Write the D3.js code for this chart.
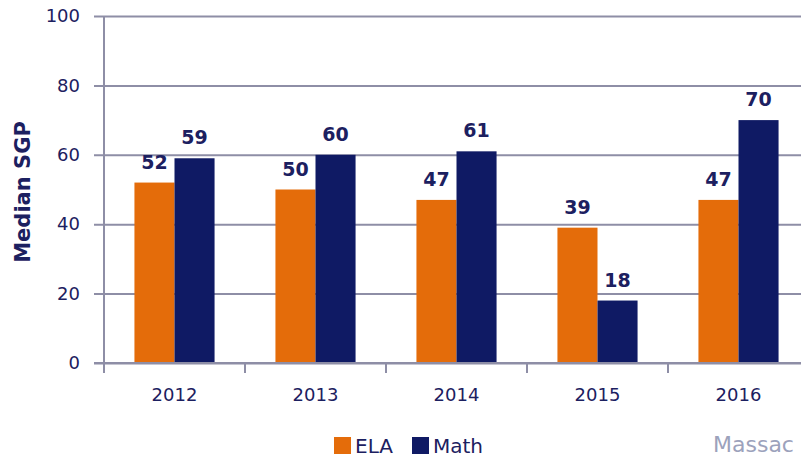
<!DOCTYPE html>
<html>
<head>
<meta charset="utf-8">
<script src="https://cdn.jsdelivr.net/npm/d3@7"></script>
<style>
  body { margin: 0; background: #fff; }
  svg { display: block; font-family: "DejaVu Sans", Verdana, sans-serif; }
</style>
</head>
<body>
<div id="chart"></div>
<script>
const width = 801;
const height = 458;

const years = ['2012', '2013', '2014', '2015', '2016'];
const series = ['ELA', 'Math'];
const ela = [52, 50, 47, 39, 47];
const math = [59, 60, 61, 18, 70];
const y_ticks = [0, 20, 40, 60, 80, 100];
const colors = ['#e46c0a', '#0f1a64'];

const axis_color = '#8e8ea6';
const text_color = '#1c2060';

const rows = years.map((yr, i) => ({ year: yr, ELA: ela[i], Math: math[i] }));

const x_scale = d3.scaleBand()
  .domain(years)
  .range([104, 809]);
const x_inner = d3.scaleBand()
  .domain(series)
  .range([0, x_scale.bandwidth()])
  .paddingOuter(0.76);
const y_scale = d3.scaleLinear()
  .domain([0, 100])
  .range([363, 16]);
const color_scale = d3.scaleOrdinal()
  .domain(series)
  .range(colors);

const svg = d3.select('#chart')
  .append('svg')
    .attr('width', width)
    .attr('height', height);

// gridlines + y ticks
svg.append('g')
    .attr('class', 'grid')
    .attr('transform', 'translate(104,0)')
    .call(d3.axisLeft(y_scale)
      .tickValues(y_ticks)
      .tickSize(10)
      .tickPadding(14))
    .call(g => g.select('.domain').remove())
    .call(g => g.selectAll('.tick line')
      .attr('x2', width)
      .attr('x1', -10)
      .attr('stroke', axis_color)
      .attr('stroke-width', 2))
    .call(g => g.selectAll('.tick text')
      .attr('fill', text_color)
      .attr('font-size', 18)
      .attr('font-family', '"DejaVu Sans", Verdana, sans-serif'));

// bars
const groups = svg.selectAll('.year')
    .data(rows)
  .join('g')
    .attr('class', 'year')
    .attr('transform', d => `translate(${x_scale(d.year)},0)`);

groups.selectAll('rect')
    .data(d => series.map(s => ({ key: s, value: d[s] })))
  .join('rect')
    .attr('x', d => x_inner(d.key))
    .attr('width', x_inner.bandwidth())
    .attr('y', d => y_scale(d.value))
    .attr('height', d => y_scale(0) - y_scale(d.value))
    .attr('fill', d => color_scale(d.key));

groups.selectAll('text.value')
    .data(d => series.map(s => ({ key: s, value: d[s] })))
  .join('text')
    .attr('class', 'value')
    .attr('x', d => x_inner(d.key) + x_inner.bandwidth() / 2)
    .attr('y', d => y_scale(d.value) - 14)
    .attr('text-anchor', 'middle')
    .attr('font-size', 19)
    .attr('font-weight', 'bold')
    .attr('fill', text_color)
    .text(d => d.value);

// x axis
svg.append('g')
    .attr('class', 'x-axis')
    .attr('transform', 'translate(0,363)')
    .call(d3.axisBottom(x_scale).tickSize(0).tickPadding(25))
    .call(g => g.select('.domain').remove())
    .call(g => g.selectAll('.tick text')
      .attr('fill', text_color)
      .attr('font-size', 18)
      .attr('font-family', '"DejaVu Sans", Verdana, sans-serif'));

svg.select('.x-axis').selectAll('.sep')
    .data(years)
  .join('line')
    .attr('class', 'sep')
    .attr('x1', d => x_scale(d))
    .attr('x2', d => x_scale(d))
    .attr('y1', 0)
    .attr('y2', 10)
    .attr('stroke', axis_color)
    .attr('stroke-width', 2);

svg.append('line')
    .attr('x1', 94)
    .attr('x2', width)
    .attr('y1', y_scale(0))
    .attr('y2', y_scale(0))
    .attr('stroke', axis_color)
    .attr('stroke-width', 2);

svg.append('line')
    .attr('x1', 104)
    .attr('x2', 104)
    .attr('y1', y_scale(100))
    .attr('y2', y_scale(0) + 10)
    .attr('stroke', axis_color)
    .attr('stroke-width', 2);

// y title
svg.append('text')
    .attr('transform', 'translate(30,192) rotate(-90)')
    .attr('text-anchor', 'middle')
    .attr('font-size', 21)
    .attr('font-weight', 'bold')
    .attr('fill', text_color)
    .text('Median SGP');

// legend
const legend = svg.append('g')
    .attr('transform', 'translate(334,437)');
const legend_x = [0, 78];
legend.selectAll('rect')
    .data(series)
  .join('rect')
    .attr('x', (d, i) => legend_x[i])
    .attr('width', 17)
    .attr('height', 17)
    .attr('fill', d => color_scale(d));
legend.selectAll('text')
    .data(series)
  .join('text')
    .attr('x', (d, i) => legend_x[i] + 21)
    .attr('y', 16)
    .attr('font-size', 20)
    .attr('fill', text_color)
    .text(d => d);

// footer fragment visible at the right edge of the source
svg.append('text')
    .attr('x', 713)
    .attr('y', 452)
    .attr('font-size', 22)
    .attr('fill', '#9ca2bc')
    .text('Massac');
</script>
</body>
</html>
